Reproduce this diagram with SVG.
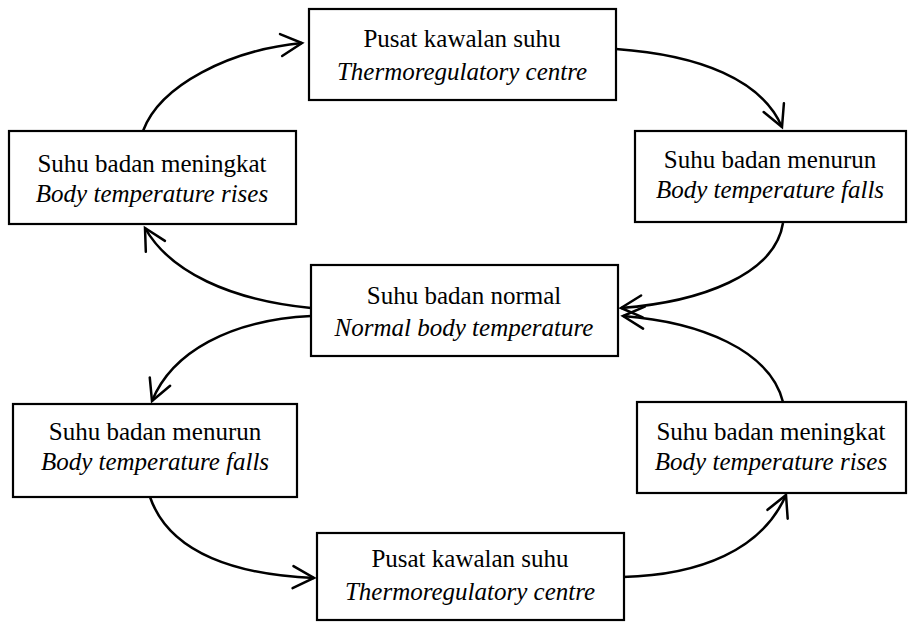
<svg xmlns="http://www.w3.org/2000/svg" width="911" height="624" viewBox="0 0 911 624">
<defs>
<marker id="arr" markerUnits="userSpaceOnUse" markerWidth="40" markerHeight="40" refX="0" refY="0" viewBox="-30 -20 40 40" orient="auto" overflow="visible">
<path d="M-21,-11 L0,0 L-21,11" fill="none" stroke="#000" stroke-width="2.5" stroke-linecap="round" stroke-linejoin="miter"/>
</marker>
<style>
.box{fill:#fff;stroke:#000;stroke-width:2.2}
.t{font-family:"Liberation Serif","Times New Roman",serif;font-size:25px;fill:#000;text-anchor:middle}
.i{font-style:italic}
.c{fill:none;stroke:#000;stroke-width:2.5;marker-end:url(#arr)}
</style>
</defs>
<rect width="911" height="624" fill="#fff"/>
<g id="connectors">
<path class="c" d="M143,131 C160,85 230,50 302,43"/>
<path class="c" d="M616,49 C700,55 762,80 782,127"/>
<path class="c" d="M783,223 C775,275 700,302 621,308"/>
<path class="c" d="M783,402 C770,350 700,322 623,316"/>
<path class="c" d="M311,308 C230,300 170,272 145,228"/>
<path class="c" d="M311,316 C230,320 172,352 152,401"/>
<path class="c" d="M150,497 C170,555 240,575 314,578"/>
<path class="c" d="M623,577 C700,575 762,550 786,495"/>
</g>
<g id="top">
<rect class="box" x="309" y="9" width="307" height="91"/>
<text class="t" x="462" y="47">Pusat kawalan suhu</text>
<text class="t i" x="462" y="80">Thermoregulatory centre</text>
</g>
<g id="rightTop">
<rect class="box" x="635" y="131" width="271" height="91"/>
<text class="t" x="770" y="168">Suhu badan menurun</text>
<text class="t i" x="770" y="198">Body temperature falls</text>
</g>
<g id="leftTop">
<rect class="box" x="9" y="131" width="287" height="93"/>
<text class="t" x="152" y="172">Suhu badan meningkat</text>
<text class="t i" x="152" y="202">Body temperature rises</text>
</g>
<g id="middle">
<rect class="box" x="311" y="265" width="307" height="91"/>
<text class="t" x="464" y="304">Suhu badan normal</text>
<text class="t i" x="464" y="336">Normal body temperature</text>
</g>
<g id="leftBottom">
<rect class="box" x="13" y="404" width="284" height="93"/>
<text class="t" x="155" y="440">Suhu badan menurun</text>
<text class="t i" x="155" y="470">Body temperature falls</text>
</g>
<g id="rightBottom">
<rect class="box" x="637" y="402" width="269" height="91"/>
<text class="t" x="771" y="440">Suhu badan meningkat</text>
<text class="t i" x="771" y="470">Body temperature rises</text>
</g>
<g id="bottom">
<rect class="box" x="317" y="533" width="307" height="87"/>
<text class="t" x="470" y="567">Pusat kawalan suhu</text>
<text class="t i" x="470" y="600">Thermoregulatory centre</text>
</g>
</svg>
